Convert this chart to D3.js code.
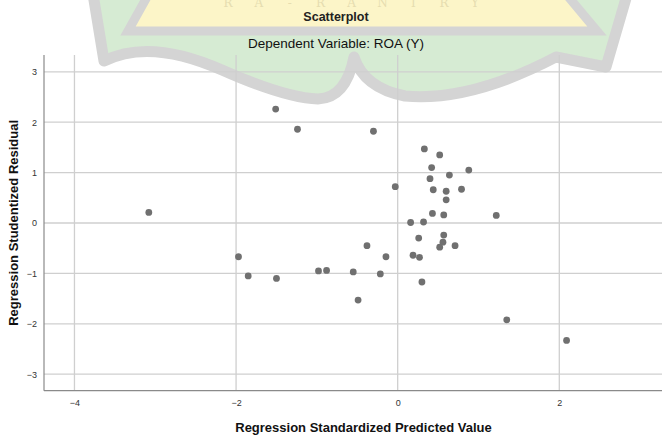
<!DOCTYPE html>
<html>
<head>
<meta charset="utf-8">
<script src="https://cdn.jsdelivr.net/npm/d3@7"></script>
<style>
  body { margin: 0; background: #fff; }
  svg { display: block; font-family: "Liberation Sans", Arial, sans-serif; }
</style>
</head>
<body>
<div id="chart"></div>
<script>
// standardized predicted value (x) and studentized residual (y)
var predicted = [-3.08, -1.97, -1.85, -1.51, -1.50, -1.24, -0.98, -0.88, -0.55, -0.49,
  -0.38, -0.30, -0.215, -0.145, -0.03, 0.16, 0.19, 0.26, 0.27, 0.30,
  0.32, 0.33, 0.40, 0.42, 0.43, 0.44, 0.52, 0.52, 0.56, 0.57,
  0.57, 0.60, 0.60, 0.64, 0.71, 0.79, 0.88, 1.22, 1.35, 2.09];
var residual = [0.21, -0.67, -1.05, 2.26, -1.10, 1.86, -0.95, -0.94, -0.97, -1.53,
  -0.45, 1.82, -1.01, -0.67, 0.72, 0.01, -0.64, -0.30, -0.68, -1.17,
  0.02, 1.47, 0.88, 1.10, 0.19, 0.66, 1.35, -0.48, -0.38, -0.24,
  0.16, 0.63, 0.46, 0.95, -0.45, 0.67, 1.05, 0.15, -1.92, -2.33];
var xTicks = [-4, -2, 0, 2];
var yTicks = [-3, -2, -1, 0, 1, 2, 3];
var title = "Scatterplot";
var subtitle = "Dependent Variable: ROA (Y)";
var xTitle = "Regression Standardized Predicted Value";
var yTitle = "Regression Studentized Residual";
var wmLetters = ["R", "A", "-", "R", "A", "N", "I", "R", "Y"];

var W = 662, H = 435;
var margin = { top: 55, right: 0, bottom: 44.3, left: 44 };
var width = W - margin.left - margin.right;
var height = H - margin.top - margin.bottom;

var svg = d3.select( "#chart" ).append( "svg" )
  .attr( "width", W )
  .attr( "height", H );

// faint logo watermark behind the chart
var wm = svg.append( "g" ).attr( "class", "watermark" );
wm.append( "path" )
  .attr( "d", "M92,-12 L104,61 Q150,38 222,70 Q285,98 318,99 Q346,98 354,57 " +
    "Q364,88 405,96 Q470,102 556,57 L606,67 L629,-12 Z" )
  .attr( "fill", "#d6ebd3" )
  .attr( "stroke", "#d4d4d4" )
  .attr( "stroke-width", 11 )
  .attr( "stroke-linejoin", "round" );
wm.append( "path" )
  .attr( "d", "M152,-12 L128,31 L597,31 L561,-12 Z" )
  .attr( "fill", "#fcf5c8" )
  .attr( "stroke", "#d4d4d4" )
  .attr( "stroke-width", 9 );
var wmX = d3.scalePoint().domain( d3.range( wmLetters.length ) ).range( [228, 475] );
wm.selectAll( "text" )
  .data( wmLetters )
  .enter().append( "text" )
  .attr( "x", function ( d, i ) { return wmX( i ); } )
  .attr( "y", 7 )
  .attr( "text-anchor", "middle" )
  .style( "font-family", "'DejaVu Serif', serif" )
  .style( "font-size", "12px" )
  .style( "fill", "#e6ddb0" )
  .text( function ( d ) { return d; } );

var x = d3.scaleLinear().domain( [-4.377, 3.271] ).range( [0, width] );
var y = d3.scaleLinear().domain( [-3.327, 3.333] ).range( [height, 0] );

var g = svg.append( "g" ).attr( "transform", "translate(" + margin.left + "," + margin.top + ")" );

// grid
g.selectAll( ".hgrid" )
  .data( yTicks )
  .enter().append( "line" )
  .attr( "class", "hgrid" )
  .attr( "x1", 0 ).attr( "x2", width )
  .attr( "y1", function ( d ) { return y( d ); } )
  .attr( "y2", function ( d ) { return y( d ); } )
  .attr( "stroke", "#cfcfcf" )
  .attr( "stroke-width", 1.3 );
g.selectAll( ".vgrid" )
  .data( xTicks )
  .enter().append( "line" )
  .attr( "class", "vgrid" )
  .attr( "y1", 0 ).attr( "y2", height )
  .attr( "x1", function ( d ) { return x( d ); } )
  .attr( "x2", function ( d ) { return x( d ); } )
  .attr( "stroke", "#cfcfcf" )
  .attr( "stroke-width", 1.3 );

// axes
var xAxis = g.append( "g" )
  .attr( "transform", "translate(0," + height + ")" )
  .call( d3.axisBottom( x ).tickValues( xTicks ).tickSize( 0 ).tickPadding( 9 ).tickFormat( d3.format( "d" ) ) );
var yAxis = g.append( "g" )
  .call( d3.axisLeft( y ).tickValues( yTicks ).tickSize( 0 ).tickPadding( 7 ).tickFormat( d3.format( "d" ) ) );
[xAxis, yAxis].forEach( function ( a ) {
  a.select( ".domain" ).attr( "stroke", "#8a8a8a" ).attr( "stroke-width", 1.2 );
  a.selectAll( "text" )
    .style( "font-family", "'Liberation Sans', Arial, sans-serif" )
    .style( "font-size", "9px" )
    .style( "fill", "#333" );
} );
yAxis.select( ".domain" ).attr( "d", "M0," + height + "V0" );
xAxis.select( ".domain" ).attr( "d", "M0,0H" + width );

// points
g.selectAll( ".dot" )
  .data( predicted )
  .enter().append( "circle" )
  .attr( "class", "dot" )
  .attr( "cx", function ( d ) { return x( d ); } )
  .attr( "cy", function ( d, i ) { return y( residual[i] ); } )
  .attr( "r", 3.4 )
  .attr( "fill", "#707070" );

// titles
svg.append( "text" )
  .attr( "x", 336 ).attr( "y", 20.5 )
  .attr( "text-anchor", "middle" )
  .style( "font-size", "12.5px" )
  .style( "font-weight", "bold" )
  .style( "fill", "#222" )
  .text( title );
svg.append( "text" )
  .attr( "x", 336 ).attr( "y", 48 )
  .attr( "text-anchor", "middle" )
  .style( "font-size", "13.5px" )
  .style( "fill", "#111" )
  .text( subtitle );
svg.append( "text" )
  .attr( "x", 363.5 ).attr( "y", 432 )
  .attr( "text-anchor", "middle" )
  .style( "font-size", "13px" )
  .style( "font-weight", "bold" )
  .style( "fill", "#111" )
  .text( xTitle );
svg.append( "text" )
  .attr( "transform", "translate(18," + ( margin.top + height / 2 ) + ") rotate(-90)" )
  .attr( "text-anchor", "middle" )
  .style( "font-size", "13px" )
  .style( "font-weight", "bold" )
  .style( "fill", "#111" )
  .text( yTitle );
</script>
</body>
</html>
